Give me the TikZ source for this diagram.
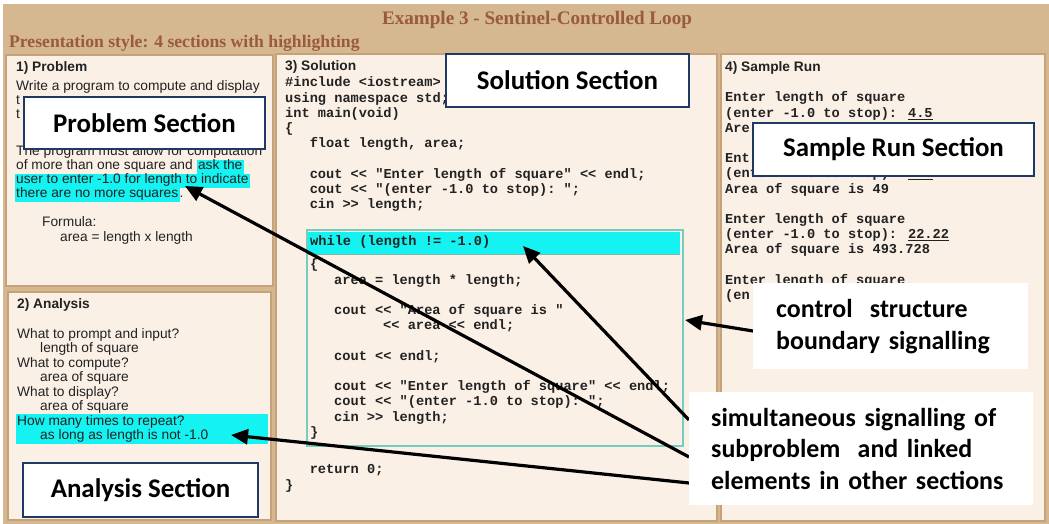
\documentclass[tikz,border=0pt]{standalone}
\usepackage{fontspec}
\setmainfont{Liberation Sans}
\newfontfamily\serifT{Liberation Serif}
\newfontfamily\monoT{Liberation Mono}
\newfontfamily\callT{Carlito}
\usetikzlibrary{arrows.meta,calc}

\definecolor{pagetan}{HTML}{D5B790}
\definecolor{panelbg}{HTML}{FAF0E6}
\definecolor{panelrule}{HTML}{C6A27A}
\definecolor{titlebrown}{HTML}{9A5A3C}
\definecolor{hl}{HTML}{14F2F2}
\definecolor{txt}{HTML}{222222}
\definecolor{navy}{HTML}{1F3864}
\definecolor{loopteal}{HTML}{74CEBE}
\definecolor{bandrule}{HTML}{7FB7B0}

% cyan text highlighting
\newcommand\hl[1]{\begingroup\setlength{\fboxsep}{0pt}\colorbox{hl}{\hspace{1.5pt}\strut #1\hspace{1.5pt}}\endgroup}

\begin{document}
\begin{tikzpicture}[x=1bp,y=-1bp,
  panel/.style={draw=panelrule, line width=2.5bp, fill=panelbg},
  txtline/.style={anchor=base west, inner sep=0pt, text=txt, font=\fontsize{13.8}{14}\selectfont},
  hdr/.style={txtline, font=\bfseries\fontsize{13.8}{14}\selectfont},
  code/.style={anchor=base west, inner sep=0pt, text=txt, font=\monoT\bfseries\fontsize{13.7}{15.2}\selectfont},
  secbox/.style={draw=navy, line width=2.2bp, fill=white, inner sep=0pt,
    font=\callT\bfseries\fontsize{27}{32}\selectfont},
  callout/.style={fill=white, anchor=north west, align=left, inner ysep=0pt,
    font=\callT\bfseries\fontsize{26}{32}\selectfont},
  arr/.style={line width=3.2bp, -{Triangle[length=17bp,width=15bp]}},
]
\useasboundingbox (0,0) rectangle (1049,524);
\fill[white] (0,0) rectangle (1049,524);
\fill[pagetan] (3,4) rectangle (1049,524);

% page heading
\node[anchor=base, inner sep=0pt, text=titlebrown, font=\serifT\bfseries\fontsize{19.2}{22}\selectfont]
  (title) at (537,25) {Example 3 - Sentinel-Controlled Loop};
\node[anchor=base west, inner sep=0pt, text=titlebrown, font=\serifT\bfseries\fontsize{17.7}{20}\selectfont]
  (style) at (9,48) {Presentation style: 4 sections with highlighting};

% the four panels
\filldraw[panel] (6,55) rectangle (273,286);
\filldraw[panel] (8,292) rectangle (271,520);
\filldraw[panel] (276,54) rectangle (717,521);
\filldraw[panel] (721,54) rectangle (1045,521);

% 1) Problem
\node[hdr] (p0) at (16,71.5) {1) Problem};
\node[txtline] (p1) at (16,90.5) {Write a program to compute and display};
\node[txtline] (p2) at (16,104.5) {t};
\node[txtline] (p3) at (16,118.5) {t};
\node[txtline] (p4) at (16,155.5) {The program must allow for computation};
\node[txtline] (p5) at (16,169.5) {of more than one square and \hl{ask the}};
\node[txtline] (p6) at (14.5,183.5) {\hl{user to enter -1.0 for length to indicate}};
\node[txtline] (p7) at (14.5,197.5) {\hl{there are no more squares}.};
\node[txtline] (p8) at (42,226.5) {Formula:};
\node[txtline] (p9) at (60,241.5) {area = length x length};

% 2) Analysis
\fill[hl] (16,414) rectangle (268,444);
\node[hdr] (a0) at (17,308.5) {2) Analysis};
\node[txtline] (a1) at (17,338.5) {What to prompt and input?};
\node[txtline] (a2) at (40,352.9) {length of square};
\node[txtline] (a3) at (17,367.4) {What to compute?};
\node[txtline] (a4) at (40,381.8) {area of square};
\node[txtline] (a5) at (17,396.2) {What to display?};
\node[txtline] (a6) at (40,410.6) {area of square};
\node[txtline] (a7) at (17,425.1) {How many times to repeat?};
\node[txtline] (a8) at (40,439.5) {as long as length is not -1.0};

% 3) Solution
\node[hdr] (s0) at (285,70.5) {3) Solution};
\node[code] (c1) at (285,87) {\#include <iostream>};
\node[code] (c2) at (285,102.2) {using namespace std;};
\node[code] (c3) at (285,117.4) {int main(void)};
\node[code] (c4) at (285,132.6) {\{};
\node[code] (c5) at (309.6,147.8) {float length, area;};
\node[code] (c6) at (309.6,178.2) {cout << "Enter length of square" << endl;};
\node[code] (c7) at (309.6,193.4) {cout << "(enter -1.0 to stop):\ ";};
\node[code] (c8) at (309.6,208.6) {cin >> length;};

% while loop block
\node[draw=loopteal, line width=2bp, anchor=north west, inner sep=0pt,
  minimum width=376bp, minimum height=216bp] (loop) at (306,229) {};
\node[fill=hl, anchor=north west, inner sep=0pt,
  minimum width=372bp, minimum height=22bp] (wh) at (308,232) {};
\draw[bandrule, line width=1.5bp] (wh.south west) -- (wh.south east);
\node[code] (w0) at (310,246) {while (length != -1.0)};
\node[code] (w1) at (310,269) {\{};
\node[code] (w2) at (334,284.2) {area = length * length;};
\node[code] (w3) at (334,314.6) {cout << "Area of square is\ "};
\node[code] (w4) at (383,329.8) {<< area << endl;};
\node[code] (w5) at (334,360.2) {cout << endl;};
\node[code] (w6) at (334,390.6) {cout << "Enter length of square" << endl;};
\node[code] (w7) at (334,405.8) {cout << "(enter -1.0 to stop):\ ";};
\node[code] (w8) at (334,421) {cin >> length;};
\node[code] (w9) at (310,436.2) {\}};
\node[code] (c9) at (309.6,473) {return 0;};
\node[code] (c10) at (285,489) {\}};

% 4) Sample Run
\node[hdr] (r0) at (725,71.5) {4) Sample Run};
\node[code] (r1) at (725,102) {Enter length of square};
\node[code] (r2) at (725,117.2) {(enter -1.0 to stop): \underline{4.5}};
\node[code] (r3) at (725,132.4) {Are};
\node[code] (r4) at (725,162.8) {Ent};
\node[code] (r5) at (725,178) {(enter -1.0 to stop): \underline{7.0}};
\node[code] (r6) at (725,193.2) {Area of square is 49};
\node[code] (r7) at (725,223.6) {Enter length of square};
\node[code] (r8) at (725,238.8) {(enter -1.0 to stop): \underline{22.22}};
\node[code] (r9) at (725,254) {Area of square is 493.728};
\node[code] (r10) at (725,284.4) {Enter length of square};
\node[code] (r11) at (725,299.6) {(en};

% section labels
\node[secbox, minimum width=241bp, minimum height=52bp] (probLbl) at (144.5,123) {Problem Section};
\node[secbox, minimum width=243bp, minimum height=53bp] (solLbl) at (567.5,80.5) {Solution Section};
\node[secbox, minimum width=281bp, minimum height=53bp] (runLbl) at (893.5,149.5) {Sample Run Section};
\node[secbox, minimum width=235bp, minimum height=54bp] (anaLbl) at (140.5,490) {Analysis Section};

% callout boxes (placed first so that the arrow tails can refer to them)
\node[callout, inner xsep=23bp, text width=229bp, minimum width=275bp, minimum height=86bp]
  (ctrl) at (753,283) {};
\node[callout, inner xsep=22bp, text width=300bp, minimum width=344bp, minimum height=113bp]
  (sim) at (689,392) {};

% arrow ends
\coordinate (simA) at ($(sim.north west)+(0,28)$);
\coordinate (simB) at ($(sim.north west)+(0,65)$);
\coordinate (simC) at ($(sim.north west)+(0,91)$);
\coordinate (ctrlTail) at ($(ctrl.north west)+(0,48)$);
\coordinate (whileTip) at ($(wh.north west)+(215,14)$);
\coordinate (probTip) at (185,186);
\coordinate (anaTip) at (231,435);
\coordinate (loopTip) at ($(loop.north east)+(1,91)$);

\draw[arr] (simA) -- (whileTip);
\draw[arr] (simB) -- (probTip);
\draw[arr] (simC) -- (anaTip);
\draw[arr] (ctrlTail) -- (loopTip);

% callout texts, drawn over the arrow tails
\node[callout, inner xsep=23bp, text width=229bp, minimum width=275bp, minimum height=86bp]
  (ctrlText) at (ctrl.north west) {control~ structure\\boundary signalling};
\node[callout, inner xsep=22bp, text width=300bp, minimum width=344bp, minimum height=113bp,
  font=\callT\bfseries\fontsize{26}{31.5}\selectfont]
  (simText) at (sim.north west) {simultaneous signalling of\\subproblem~ and linked\\elements in other sections};
\end{tikzpicture}
\end{document}
